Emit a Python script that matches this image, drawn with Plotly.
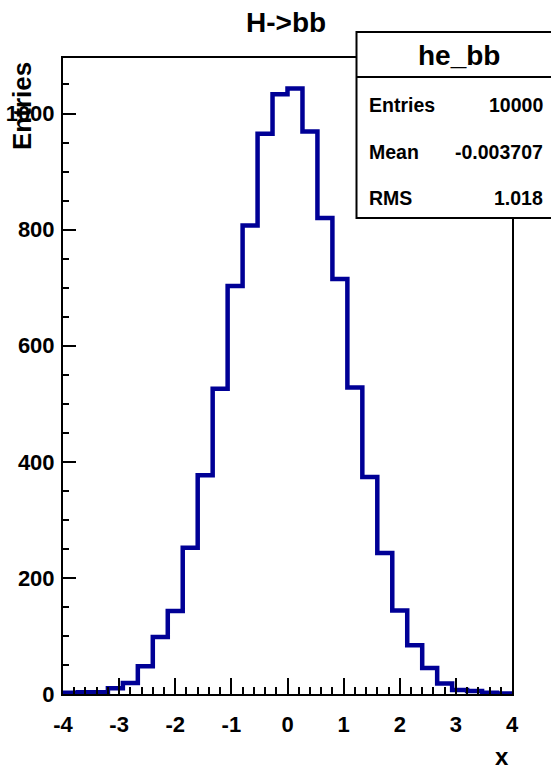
import plotly.graph_objects as go

# ---- data ----
x_min = -4.0
x_max = 4.0
counts = [2, 3, 3, 10, 19, 48, 98, 143, 252, 377, 526, 703, 807, 965, 1033,
          1043, 969, 820, 715, 528, 374, 243, 144, 84, 45, 18, 7, 5, 2, 1]
hist_name = "he_bb"
title_text = "H->bb"
stats_labels = ["Entries", "Mean", "RMS"]
stats_values = ["10000", "-0.003707", "1.018"]
x_ticks = [-4, -3, -2, -1, 0, 1, 2, 3, 4]
y_ticks = [0, 200, 400, 600, 800, 1000]

nb = len(counts)
bw = (x_max - x_min) / nb
edges = [x_min + i * bw for i in range(nb + 1)]
ys = counts + [counts[-1]]

W, H = 551, 773
L, R, T, B = 63, 512, 58, 694
pw, ph = R - L, B - T


def px(xp):
    return (xp - L) / pw


def py(yp):
    return (B - yp) / ph


FONT = "Liberation Sans, Arial, Helvetica, sans-serif"

fig = go.Figure()
fig.add_trace(go.Scatter(
    x=edges, y=ys, mode="lines", line=dict(color="rgb(0,0,150)", width=4.5, shape="hv"),
    hoverinfo="skip", showlegend=False))

axis_common = dict(
    showgrid=False, zeroline=False, showline=True, linecolor="black", linewidth=2,
    mirror=True, ticks="inside", tickcolor="black", tickwidth=2, automargin=False,
    tickfont=dict(family=FONT, size=22, color="black", weight="bold"),
)

fig.update_xaxes(range=[x_min, x_max], tickmode="array", tickvals=x_ticks,
                 ticktext=[str(v) for v in x_ticks], ticklen=16,
                 minor=dict(dtick=0.2, tick0=0, ticks="inside", ticklen=7, tickwidth=2, tickcolor="black"),
                 ticklabelstandoff=10, **axis_common)
fig.update_yaxes(range=[0, ph / 0.5805], tickmode="array", tickvals=y_ticks,
                 ticktext=[str(v) for v in y_ticks], ticklen=13,
                 minor=dict(dtick=50, tick0=0, ticks="inside", ticklen=6, tickwidth=2, tickcolor="black"),
                 ticklabelstandoff=2, **axis_common)

shapes = []
# stats box
bx0, bx1, by0, by1 = 356.5, 554, 218, 32
shapes.append(dict(type="rect", xref="paper", yref="paper",
                   x0=px(bx0), x1=px(bx1), y0=py(by0), y1=py(by1),
                   line=dict(color="black", width=2), fillcolor="white", layer="above"))
shapes.append(dict(type="line", xref="paper", yref="paper",
                   x0=px(bx0), x1=px(bx1), y0=py(77), y1=py(77),
                   line=dict(color="black", width=2), layer="above"))

ann = []
ann.append(dict(text=title_text, xref="paper", yref="paper", x=px(285.5), y=py(22),
                xanchor="center", yanchor="middle", showarrow=False,
                font=dict(family=FONT, size=28, color="black", weight="bold")))
ann.append(dict(text=hist_name, xref="paper", yref="paper", x=px(458.5), y=py(56),
                xanchor="center", yanchor="middle", showarrow=False,
                font=dict(family=FONT, size=28, color="black", weight="bold")))
rows_y = [105, 152, 198]
for lab, val, yy in zip(stats_labels, stats_values, rows_y):
    ann.append(dict(text=lab, xref="paper", yref="paper", x=px(367), y=py(yy),
                    xanchor="left", yanchor="middle", showarrow=False,
                    font=dict(family=FONT, size=19.5, color="black", weight="bold")))
    ann.append(dict(text=val, xref="paper", yref="paper", x=px(545), y=py(yy),
                    xanchor="right", yanchor="middle", showarrow=False,
                    font=dict(family=FONT, size=19.5, color="black", weight="bold")))
ann.append(dict(text="x", xref="paper", yref="paper", x=px(511), y=py(772),
                xanchor="right", yanchor="bottom", showarrow=False,
                font=dict(family=FONT, size=24, color="black", weight="bold")))
ann.append(dict(text="Entries", xref="paper", yref="paper", x=px(22), y=py(60),
                xanchor="center", yanchor="top", textangle=-90, showarrow=False,
                font=dict(family=FONT, size=26, color="black", weight="bold")))

fig.update_layout(width=W, height=H, margin=dict(l=L, r=W - R, t=T, b=H - B, pad=0),
                  paper_bgcolor="white", plot_bgcolor="white",
                  shapes=shapes, annotations=ann)

fig.write_html("out.html", config={"displayModeBar": False},
               post_script="document.body.style.margin='0';document.body.style.overflow='hidden';"
                           "document.documentElement.style.overflow='hidden';")
